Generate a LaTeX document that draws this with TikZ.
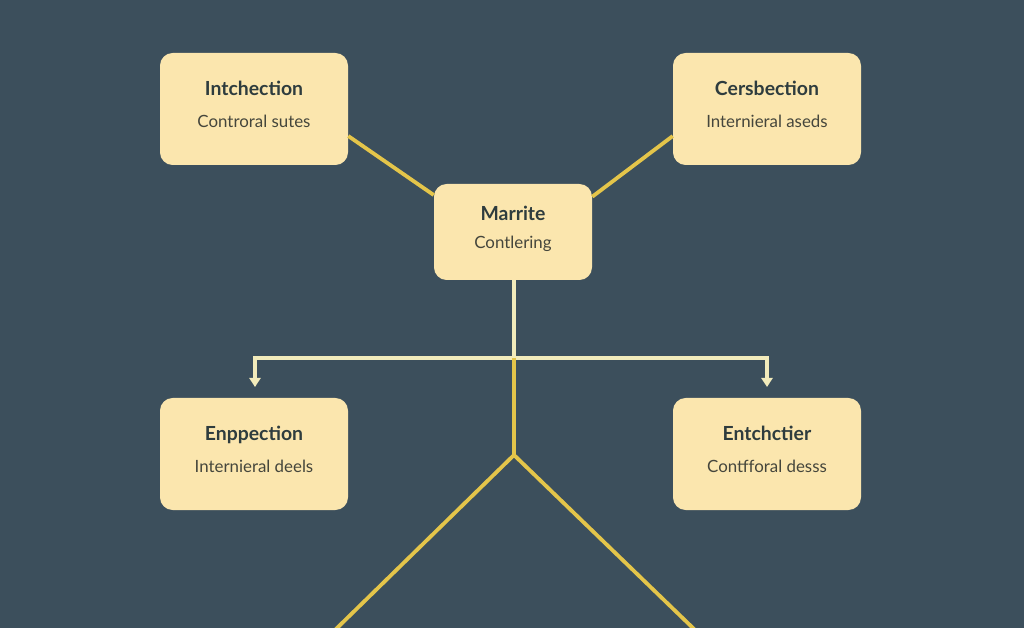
\documentclass[tikz,border=0pt]{standalone}
\usepackage{fontspec}
\setmainfont{Lato}
\usetikzlibrary{positioning, arrows.meta}

\definecolor{slate}{HTML}{3C4F5C}
\definecolor{cream}{HTML}{FBE6AE}
\definecolor{ink}{HTML}{2E3C3E}
\definecolor{subink}{HTML}{45463C}
\definecolor{gold}{HTML}{E4C54A}
\definecolor{pale}{HTML}{F2EBBB}

\newcommand{\boxtext}[3][10pt]{\raisebox{-1pt}[0pt][0pt]{\begin{tabular}{@{}c@{}}
    {\fontsize{13.8}{16}\selectfont\bfseries #2}\\[#1]
    {\fontsize{12}{14}\selectfont\color{subink} #3}\end{tabular}}}

\begin{document}
\begin{tikzpicture}
            [x=0.025cm, y=-0.025cm,
             box/.style={rectangle, rounded corners=9pt, fill=cream, text=ink,
                         minimum width=188*0.025cm, minimum height=112*0.025cm,
                         align=center, inner sep=0pt},
             hubbox/.style={box, minimum width=158*0.025cm, minimum height=96*0.025cm},
             goldline/.style={draw=gold, line width=2.7pt},
             paleline/.style={draw=pale, line width=2.6pt},
             >={Triangle[width=8pt, length=6.5pt]}]

            % background
            \fill[slate] (0,0) rectangle (1024,628);
            \useasboundingbox (0,0) rectangle (1024,628);

            \node[box] (tl) at (254,109) {\boxtext{Intchection}{Controral sutes}};
            \node[box] (tr) at (767,109) {\boxtext{Cersbection}{Internieral aseds}};
            \node[hubbox] (hub) at (513,232) {\boxtext[7pt]{Marrite}{Contlering}};
            \node[box] (bl) at (254,454) {\boxtext{Enppection}{Internieral deels}};
            \node[box] (br) at (767,454) {\boxtext{Entchctier}{Contfforal desss}};

            \coordinate (split) at (514,358);
            \coordinate (join) at (514,455);
            \coordinate (al) at (255,387);
            \coordinate (ar) at (767,387);
            \coordinate (endl) at (335,630);
            \coordinate (endr) at (695,630);

            \path[goldline] (tl.-16.6) edge (hub.155.5);
            \path[goldline] (tr.196.6) edge (hub.24.5);

            \draw[paleline] (hub.south -| split) -- (split);
            \draw[paleline, ->] (split) -| (al);
            \draw[paleline, ->] (split) -| (ar);

            \draw[goldline] (split) -- (join);
            \draw[goldline] (join) -- (endl);
            \draw[goldline] (join) -- (endr);
        \end{tikzpicture}
\end{document}
